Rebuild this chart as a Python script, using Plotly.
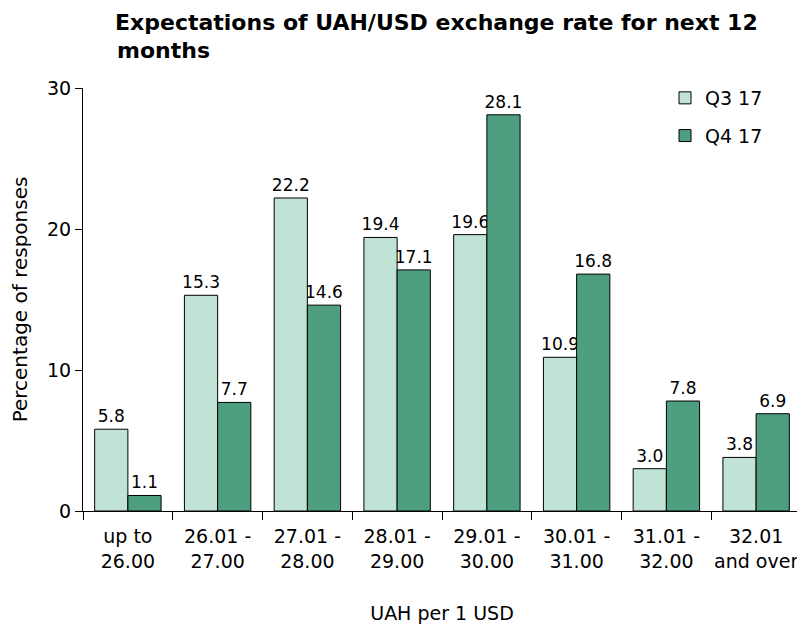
import plotly.graph_objects as go

categories = ["up to<br>26.00", "26.01 -<br>27.00", "27.01 -<br>28.00", "28.01 -<br>29.00",
              "29.01 -<br>30.00", "30.01 -<br>31.00", "31.01 -<br>32.00", "32.01<br>and over"]
q3_17 = [5.8, 15.3, 22.2, 19.4, 19.6, 10.9, 3.0, 3.8]
q4_17 = [1.1, 7.7, 14.6, 17.1, 28.1, 16.8, 7.8, 6.9]
y_ticks = [0, 10, 20, 30]

FONT = "DejaVu Sans, Liberation Sans, sans-serif"
LIGHT = "#C0E3D6"
DARK = "#4E9E80"

# page body keeps its default 8px margin, so the figure is shrunk to fit the window
W, H = 797, 616
L, R, T, B = 75, 4, 80, 113

fig = go.Figure()
for name, vals, col in [("Q3 17", q3_17, LIGHT), ("Q4 17", q4_17, DARK)]:
    fig.add_trace(go.Bar(
        x=categories, y=vals, name=name, legendgroup=name,
        marker=dict(color=col, line=dict(color="black", width=1)),
        text=[f"{v:.1f}" for v in vals], textposition="outside",
        textfont=dict(size=17, color="black", family=FONT),
        constraintext="none", cliponaxis=False,
    ))

plot_w = W - L - R
plot_h = H - T - B
fig.update_layout(
    width=W, height=H,
    paper_bgcolor="white", plot_bgcolor="white",
    font=dict(family=FONT, size=19, color="black"),
    title=dict(text="<b>Expectations of UAH/USD exchange rate for next 12</b>",
               x=107 / W, xanchor="left", y=1 - 14 / H, yanchor="middle",
               font=dict(size=22, family=FONT)),
    annotations=[dict(text="<b>months</b>", xref="paper", yref="paper",
                      x=(107 - L) / plot_w, y=1 + (T - 42) / plot_h,
                      xanchor="left", yanchor="middle", showarrow=False,
                      font=dict(size=22, family=FONT, color="black"))],
    margin=dict(l=L, r=R, t=T, b=B),
    barmode="group", bargap=0.26, bargroupgap=0,
    legend=dict(x=(657 - L) / plot_w, y=1 + (T - 71) / plot_h, xanchor="left", yanchor="top",
                bgcolor="rgba(0,0,0,0)", font=dict(size=19), tracegroupgap=10,
                itemwidth=30),
    showlegend=True,
)
fig.update_xaxes(showline=True, linecolor="black", linewidth=1, automargin=False,
                 ticks="outside", tickson="boundaries", ticklen=8, tickcolor="black",
                 tickfont=dict(size=19), ticklabelstandoff=8, tickangle=0,
                 title=dict(text="UAH per 1 USD", font=dict(size=19), standoff=38))
fig.update_yaxes(range=[0, 30], tickvals=y_ticks, showgrid=False, zeroline=False,
                 showline=True, linecolor="black", linewidth=1, automargin=False,
                 ticks="outside", ticklen=7, tickcolor="black",
                 tickfont=dict(size=19),
                 title=dict(text="Percentage of responses", font=dict(size=20), standoff=14))

fig.write_html("out.html")
